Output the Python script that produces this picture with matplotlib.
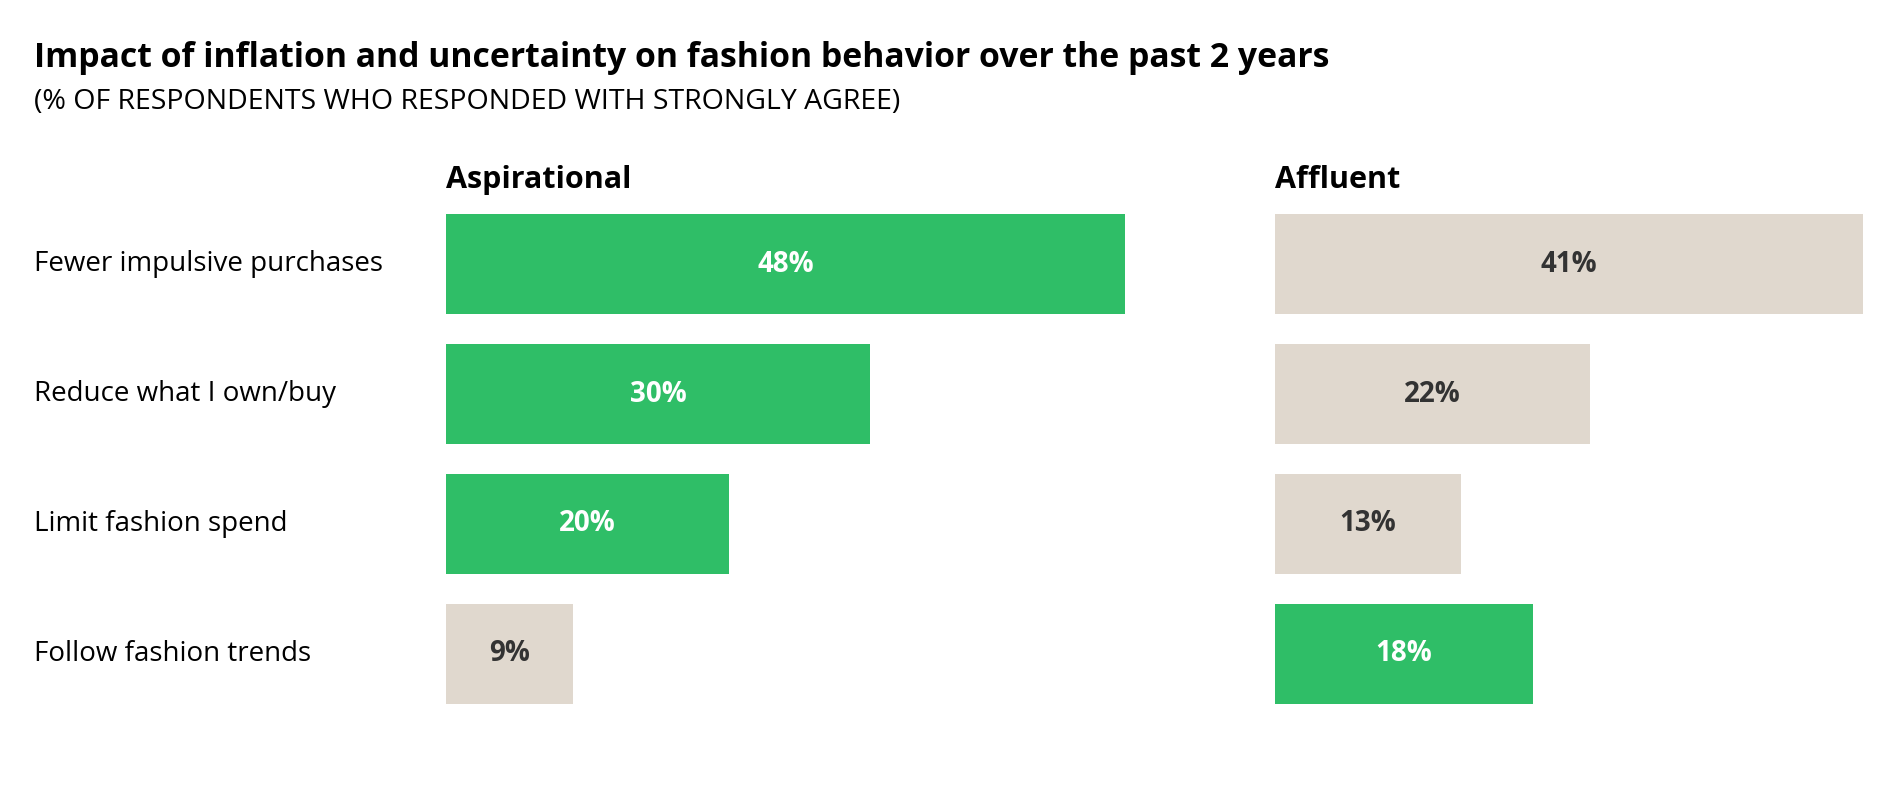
import matplotlib
matplotlib.use('Agg')
import matplotlib.pyplot as plt

categories = ['Fewer impulsive purchases', 'Reduce what I own/buy',
              'Limit fashion spend', 'Follow fashion trends']
aspirational = [48, 30, 20, 9]
affluent = [41, 22, 13, 18]
# which bars are highlighted in green
asp_highlight = [True, True, True, False]
aff_highlight = [False, False, False, True]

green = '#2FBE67'
beige = '#E0D8CE'
dark = '#333333'

plt.rcParams['font.family'] = ['Open Sans', 'DejaVu Sans']

fig = plt.figure(figsize=(18.86, 7.88), dpi=100)

W, H = 1568.0, 655.0
bottom = 1 - 597.5 / H
height = 432 / H

ax1 = fig.add_axes([371 / W, bottom, max(aspirational) * 11.75 / W, height])
ax2 = fig.add_axes([1060 / W, bottom, max(affluent) * 11.92 / W, height])

for ax, vals, hl, name in [(ax1, aspirational, asp_highlight, 'Aspirational'),
                           (ax2, affluent, aff_highlight, 'Affluent')]:
    ys = range(len(vals))
    colors = [green if h else beige for h in hl]
    ax.barh(ys, vals, height=83 / 108, color=colors)
    for y, v, h in zip(ys, vals, hl):
        ax.text(v / 2, y, f'{v}%', ha='center', va='center', fontsize=20,
                fontweight='bold', color='white' if h else dark)
    ax.set_xlim(0, max(vals))
    ax.set_ylim(len(vals) - 0.5, -0.5)
    ax.axis('off')
    ax.text(0, -0.645, name, ha='left', va='center', fontsize=22,
            fontweight='bold', color='black')

for y, c in enumerate(categories):
    ax1.text(-(371 - 28) / 11.75, y, c, ha='left', va='center',
             fontsize=20, color='black')

fig.text(28 / W, 1 - 48 / H, 'Impact of inflation and uncertainty on fashion behavior over the past 2 years',
         ha='left', va='center', fontsize=24.3, fontweight='bold')
fig.text(28 / W, 1 - 85 / H, '(% OF RESPONDENTS WHO RESPONDED WITH STRONGLY AGREE)',
         ha='left', va='center', fontsize=20.5)

fig.savefig('out.png', dpi=100)
